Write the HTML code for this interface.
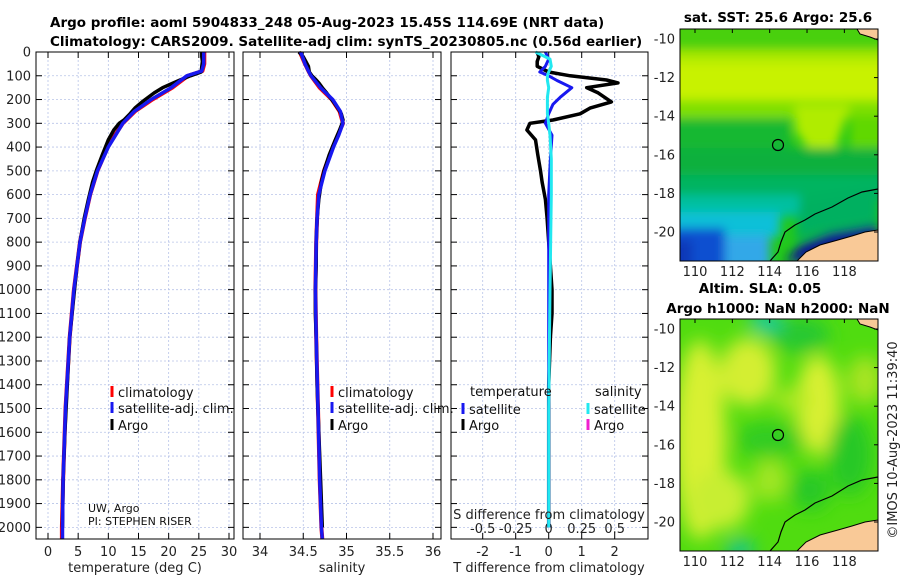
<!DOCTYPE html>
<html><head><meta charset="utf-8">
<style>
html,body{margin:0;padding:0;background:#fff;width:900px;height:580px;overflow:hidden}
svg text{font-family:"DejaVu Sans","Liberation Sans",sans-serif}
</style></head>
<body>
<svg id="c" width="900" height="580" xmlns="http://www.w3.org/2000/svg">
<defs>
<clipPath id="m1c"><rect x="680" y="29" width="198" height="232"/></clipPath>
<clipPath id="m2c"><rect x="680" y="319" width="198" height="232"/></clipPath>
<filter id="bl" x="-50%" y="-50%" width="200%" height="200%"><feGaussianBlur stdDeviation="9"/></filter>
<filter id="bl2" x="-50%" y="-50%" width="200%" height="200%"><feGaussianBlur stdDeviation="5"/></filter>
</defs>
<text x="50" y="27" font-size="13.5" font-weight="bold">Argo profile: aoml 5904833_248 05-Aug-2023 15.45S 114.69E (NRT data)</text>
<text x="50" y="46" font-size="13.5" font-weight="bold">Climatology: CARS2009. Satellite-adj clim: synTS_20230805.nc (0.56d earlier)</text>

<!-- Map 1 -->
<g clip-path="url(#m1c)">
<rect x="680" y="29" width="198" height="232" fill="#22c81a"/>
<g filter="url(#bl2)">
<rect x="670" y="20" width="220" height="30" fill="#48d010"/>
<rect x="670" y="50" width="220" height="15" fill="#a8e800"/>
<rect x="670" y="62" width="220" height="45" fill="#c8f200"/>
<rect x="670" y="100" width="220" height="18" fill="#80e000"/>
<polygon points="795,105 850,105 835,150 815,158 795,130" fill="#b0ec00"/>
<rect x="850" y="115" width="40" height="40" fill="#60d800"/>
<rect x="670" y="118" width="120" height="30" fill="#14b830"/>
<rect x="670" y="148" width="220" height="30" fill="#10b03c"/>
<rect x="670" y="175" width="220" height="25" fill="#00b460"/>
<rect x="670" y="195" width="130" height="22" fill="#00c0a0"/>
<rect x="670" y="212" width="110" height="25" fill="#10c0d8"/>
<rect x="670" y="228" width="55" height="45" fill="#1050d0"/>
<rect x="670" y="240" width="22" height="35" fill="#0838b8"/>
<rect x="725" y="236" width="45" height="35" fill="#30a8e8"/>
<polygon points="785,262 800,244 830,232 878,224 878,262" fill="#0a1a90"/>
<polygon points="800,200 878,188 878,222 830,230 795,240" fill="#00b060"/>
</g>
<polyline points="878,189 862,192 848,198 832,207 815,214 805,220 795,225 785,232 781,242 778,252 770,261" fill="none" stroke="#000" stroke-width="1.2"/>
<polygon points="797,261 806,252 820,245 838,240 852,236 865,232 878,230 878,261" fill="#f9c997" stroke="#000" stroke-width="1"/>
<polygon points="857,29 878,29 878,40 870,37 860,34" fill="#f9c997" stroke="#000" stroke-width="1"/>
<circle cx="778" cy="145" r="5.5" fill="none" stroke="#000" stroke-width="1.2"/>
</g>
<rect x="680" y="29" width="198" height="232" fill="none" stroke="#000" stroke-width="1"/>
<text x="778" y="22" font-size="13.5" font-weight="bold" text-anchor="middle">sat. SST: 25.6 Argo: 25.6</text>

<!-- Map 2 -->
<g clip-path="url(#m2c)">
<rect x="680" y="319" width="198" height="232" fill="#50dc10"/>
<g filter="url(#bl)">
<ellipse cx="700" cy="440" rx="26" ry="100" fill="#d8f030"/>
<ellipse cx="748" cy="372" rx="28" ry="34" fill="#d4ee30"/>
<ellipse cx="720" cy="500" rx="30" ry="30" fill="#c8ee30"/>
<ellipse cx="818" cy="405" rx="22" ry="50" fill="#d8f030"/>
<ellipse cx="790" cy="400" rx="18" ry="12" fill="#a8e820"/>
<ellipse cx="865" cy="380" rx="18" ry="24" fill="#a8e420"/>
<ellipse cx="770" cy="480" rx="18" ry="22" fill="#a0e620"/>
<ellipse cx="800" cy="335" rx="30" ry="18" fill="#28c830"/>
<ellipse cx="765" cy="322" rx="16" ry="10" fill="#10c8b0"/>
<ellipse cx="740" cy="550" rx="14" ry="10" fill="#10c0a0"/>
<ellipse cx="770" cy="440" rx="35" ry="18" fill="#30cc20"/>
<ellipse cx="850" cy="455" rx="22" ry="40" fill="#28c828"/>
<ellipse cx="810" cy="490" rx="20" ry="20" fill="#28c828"/>
</g>
<polyline points="878,477 862,480 848,486 832,496 815,503 805,510 795,515 785,522 781,532 778,542 770,551" fill="none" stroke="#000" stroke-width="1.2"/>
<polygon points="797,551 806,542 820,535 838,530 852,526 865,522 878,520 878,551" fill="#f9c997" stroke="#000" stroke-width="1"/>
<polygon points="857,319 878,319 878,330 870,327 860,324" fill="#f9c997" stroke="#000" stroke-width="1"/>
<circle cx="778" cy="435" r="5.5" fill="none" stroke="#000" stroke-width="1.2"/>
</g>
<rect x="680" y="319" width="198" height="232" fill="none" stroke="#000" stroke-width="1"/>
<text x="760" y="293" font-size="13.5" font-weight="bold" text-anchor="middle">Altim. SLA: 0.05</text>
<text x="778" y="313" font-size="13.5" font-weight="bold" text-anchor="middle">Argo h1000: NaN h2000: NaN</text>
<text transform="translate(897,440) rotate(-90)" font-size="13" text-anchor="middle" fill="#222">©IMOS 10-Aug-2023 11:39:40</text>
<g id="charts"></g>
</svg>
<script>
// ---- data ----
const depthTicks=[0,100,200,300,400,500,600,700,800,900,1000,1100,1200,1300,1400,1500,1600,1700,1800,1900,2000];
const tempTicks=[0,5,10,15,20,25,30];
const salTicks=[34,34.5,35,35.5,36];
const tdiffTicks=[-2,-1,0,1,2];
const sdiffTicks=[-0.5,-0.25,0,0.25,0.5];
const sdiffLabels=["-0.5","-0.25","0","0.25","0.5"];
const climDepth=[0,50,80,100,150,200,250,300,350,400,500,600,700,800,1000,1200,1500,1800,2000,2050];
const climTemp=[25.9,25.9,25.6,23.2,20.6,17.3,14.4,12.4,11.1,9.9,8.2,7.0,6.1,5.3,4.3,3.6,2.9,2.5,2.3,2.3];
const satTemp=[25.8,25.8,25.5,23.0,20.4,17.1,14.3,12.4,11.2,10.0,8.2,7.0,6.1,5.3,4.3,3.6,2.9,2.5,2.4,2.4];
const climSal=[34.46,34.52,34.56,34.59,34.69,34.83,34.92,34.96,34.9,34.84,34.74,34.67,34.66,34.65,34.64,34.65,34.67,34.69,34.71,34.72];
const satSal=[34.47,34.52,34.56,34.59,34.7,34.84,34.93,34.96,34.91,34.85,34.75,34.68,34.66,34.65,34.64,34.65,34.67,34.69,34.71,34.72];
const argoDepth=[0,20,40,60,84,100,118,130,150,172,210,236,260,286,300,328,370,433,500,547,620,700,800,900,1000,1100,1200,1400,1600,1800,2000];
const argoTemp=[25.5,25.5,25.6,25.5,25.4,23.6,21.9,20.8,19.0,17.6,15.6,14.4,13.6,12.6,11.8,10.9,10.0,9.0,8.0,7.4,6.7,6.0,5.3,4.8,4.4,4.0,3.6,3.2,2.8,2.5,2.4];
const argoTdiff=[-0.35,-0.3,-0.35,-0.35,0.0,0.65,1.75,2.1,1.15,1.5,1.9,1.25,0.95,0.13,-0.57,-0.66,-0.4,-0.33,-0.25,-0.2,-0.1,-0.05,0.0,0.05,0.1,0.1,0.05,0.0,0.0,0.0,0.0];
const argoSal=[34.45,34.5,34.53,34.56,34.57,34.6,34.65,34.68,34.72,34.77,34.85,34.9,34.94,34.96,34.95,34.92,34.87,34.8,34.74,34.71,34.68,34.66,34.65,34.65,34.64,34.64,34.65,34.66,34.68,34.7,34.72];
const satDiffDepth=[0,30,60,84,100,120,150,190,220,260,300,350,450,600,1000,1500,2000];
const satTdiff=[-0.1,0.0,-0.1,-0.27,0.0,0.25,0.7,0.35,0.13,0.0,-0.1,0.1,0.05,0.0,0.0,0.0,0.0];
const satSdiff=[-0.1,0.01,0.02,0.0,-0.01,-0.01,0.0,-0.01,-0.01,-0.01,0.0,0.01,0.02,0.02,0.01,0.0,0.0];
// ---- axes ----
const Y0=52,Y1=539,DMAX=2049;
const yD=d=>Y0+d/DMAX*(Y1-Y0);
const xT=t=>48+t*6.033;
const xS=s=>260+(s-34)*86.5;
const xTd=t=>548.7+t*33;
const xSd=s=>548.7+s*132;
const P=[{x0:36,x1:234,n:'temperature'},{x0:243,x1:441,n:'salinity'},{x0:451,x1:648,n:'difference'}];
const NS='http://www.w3.org/2000/svg';
const G=document.getElementById('charts');
function el(t,a,txt){const e=document.createElementNS(NS,t);for(const k in a)e.setAttribute(k,a[k]);if(txt!==undefined)e.textContent=txt;G.appendChild(e);return e;}
function line(xf,xs,ds,col,w,name){
 const pts=xs.map((v,i)=>xf(v).toFixed(1)+','+yD(ds[i]).toFixed(1)).join(' ');
 const e=el('polyline',{points:pts,fill:'none',stroke:col,'stroke-width':w,'stroke-linejoin':'round'});
 
 
}
P.forEach((p,pi)=>{
 depthTicks.forEach(d=>{const g=el('line',{x1:p.x0,x2:p.x1,y1:yD(d),y2:yD(d),stroke:'#b8c4e8','stroke-width':0.8,'stroke-dasharray':'2,2'});
  });
 const xt=pi==0?tempTicks.map(xT):pi==1?salTicks.map(xS):tdiffTicks.map(xTd);
 xt.forEach(x=>{const g=el('line',{x1:x,x2:x,y1:Y0,y2:Y1,stroke:'#b8c4e8','stroke-width':0.8,'stroke-dasharray':'2,2'});
  
  const t1=el('line',{x1:x,x2:x,y1:Y0,y2:Y0+6,stroke:'#000'});
  const t2=el('line',{x1:x,x2:x,y1:Y1,y2:Y1-6,stroke:'#000'});});
 depthTicks.forEach(d=>{
  const a=el('line',{x1:p.x0,x2:p.x0+6,y1:yD(d),y2:yD(d),stroke:'#000'});
  const b=el('line',{x1:p.x1,x2:p.x1-6,y1:yD(d),y2:yD(d),stroke:'#000'});});
});
depthTicks.forEach(d=>{const t=el('text',{x:31,y:yD(d)+4.5,'font-size':13,'text-anchor':'end',fill:'#222'},String(d));
 });
tempTicks.forEach(v=>{const t=el('text',{x:xT(v),y:556,'font-size':13,'text-anchor':'middle',fill:'#222'},String(v));});
salTicks.forEach(v=>{const t=el('text',{x:xS(v),y:556,'font-size':13,'text-anchor':'middle',fill:'#222'},String(v));});
tdiffTicks.forEach(v=>{const t=el('text',{x:xTd(v),y:556,'font-size':13,'text-anchor':'middle',fill:'#222'},String(v));});
sdiffTicks.forEach((v,i)=>{const t=el('text',{x:xSd(v),y:533,'font-size':13,'text-anchor':'middle',fill:'#222'},sdiffLabels[i]);});
line(xT,climTemp,climDepth,'#f00',4,'temperature-climatology-line');
line(xT,argoTemp,argoDepth,'#000',3.5,'temperature-argo-line');
line(xT,satTemp,climDepth,'#1818f0',3.5,'temperature-satellite-line');
line(xS,climSal,climDepth,'#f00',4,'salinity-climatology-line');
line(xS,argoSal,argoDepth,'#000',3.5,'salinity-argo-line');
line(xS,satSal,climDepth,'#1818f0',3.5,'salinity-satellite-line');
line(xTd,argoTdiff,argoDepth,'#000',3.5,'tdiff-argo-line');
line(xTd,satTdiff,satDiffDepth,'#1818f0',3,'tdiff-satellite-line');
line(xSd,satSdiff,satDiffDepth,'#22e8f0',3,'sdiff-satellite-line');
P.forEach(p=>{const r=el('rect',{x:p.x0,y:Y0,width:p.x1-p.x0,height:Y1-Y0,fill:'none',stroke:'#000','stroke-width':1});
 });
[[135,'temperature (deg C)','temperature-axis-title'],[342,'salinity','salinity-axis-title'],[549,'T difference from climatology','tdiff-axis-title']].forEach(a=>{
 const t=el('text',{x:a[0],y:572,'font-size':13,'text-anchor':'middle',fill:'#222'},a[1]);});
const st=el('text',{x:549,y:519,'font-size':13,'text-anchor':'middle',fill:'#222'},'S difference from climatology');

function leg(x,y,col,label,name){
 const m=el('rect',{x:x-1.5,y:y-6,width:3,height:11,fill:col});
 const t=el('text',{x:x+6,y:y+5,'font-size':13,fill:'#111'},label);}
leg(112,392,'#f00','climatology','legend-climatology');
leg(112,408,'#1818f0','satellite-adj. clim.','legend-satellite-adj');
leg(112,425,'#000','Argo','legend-argo');
leg(332,392,'#f00','climatology','legend-sal-climatology');
leg(332,408,'#1818f0','satellite-adj. clim.','legend-sal-satellite-adj');
leg(332,425,'#000','Argo','legend-sal-argo');
const lt=el('text',{x:470,y:396,'font-size':13,fill:'#111'},'temperature');
const ls=el('text',{x:595,y:396,'font-size':13,fill:'#111'},'salinity');
leg(463,409,'#1818f0','satellite','legend-tdiff-satellite');
leg(463,425,'#000','Argo','legend-tdiff-argo');
leg(588,409,'#22e8f0','satellite','legend-sdiff-satellite');
leg(588,425,'#f020d0','Argo','legend-sdiff-argo');
const c1=el('text',{x:88,y:512,'font-size':11,fill:'#111'},'UW, Argo');
const c2=el('text',{x:88,y:525,'font-size':11,fill:'#111'},'PI: STEPHEN RISER');
const latTicks=[-10,-12,-14,-16,-18,-20];
const lonTicks=[110,112,114,116,118];
[[29,39,232,276],[319,329,522,566]].forEach((m,mi)=>{
 latTicks.forEach(v=>{const y=m[1]+(v+10)/-10*(m[2]-m[1]);
  const t=el('text',{x:675,y:y+4.5,'font-size':13,'text-anchor':'end',fill:'#222'},String(v));
  const k=el('line',{x1:878,x2:874,y1:y,y2:y,stroke:'#000'});});
 lonTicks.forEach(v=>{const x=695+(v-110)*18.67;
  const t=el('text',{x:x,y:m[3],'font-size':13,'text-anchor':'middle',fill:'#222'},String(v));
  const k=el('line',{x1:x,x2:x,y1:m[0],y2:m[0]+4,stroke:'#000'});});
});
</script>
</body></html>
